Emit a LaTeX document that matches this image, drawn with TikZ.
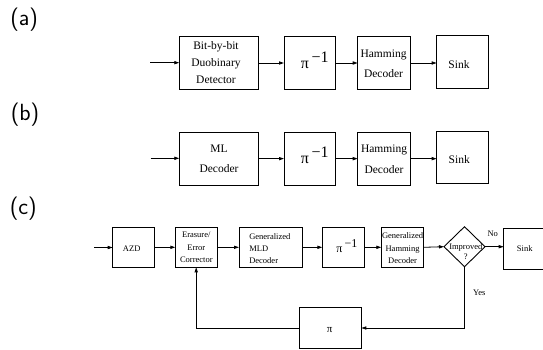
\documentclass[tikz,border=0pt]{standalone}
\usepackage{fontspec}
\setmainfont{Liberation Serif}
\usetikzlibrary{arrows.meta,shapes.geometric}
\tikzset{
  blk/.style={draw, line width=0.9pt, rectangle, inner sep=0pt, outer sep=0pt},
  dia/.style={draw, line width=0.9pt, diamond, inner sep=0pt, outer sep=0pt},
  arr/.style={line width=0.8pt, -{Triangle[length=5pt,width=3.2pt]}},
  line/.style={line width=0.8pt},
  txt/.style={inner sep=0pt, outer sep=0pt},
  lbl/.style={txt, anchor=base, font=\sffamily\fontsize{23.4}{28}\selectfont},
  bigpi/.style={txt, anchor=base, font=\fontsize{16}{19}\selectfont},
  midpi/.style={txt, anchor=base, font=\fontsize{12}{14}\selectfont},
  small/.style={txt, font=\fontsize{8.5}{12.5}\selectfont},
  large/.style={txt, font=\fontsize{11.5}{17.2}\selectfont},
}
\begin{document}
\begin{tikzpicture}[x=1pt,y=-1pt]
\path[use as bounding box] (0,0) rectangle (543,350);
\fill[white] (0,0) rectangle (543,350);
\clip (0,0) rectangle (543,350);

% panel labels
\node[lbl] (la) at (24.2,25.85) {(a)};
\node[lbl] (lb) at (25,120.3) {(b)};
\node[lbl] (lc) at (23.3,214.2) {(c)};

% ---------- row (a)
\node[blk, minimum width=79pt, minimum height=52.6pt] (a1) at (218.8,63) {};
\node[large, align=center] (a1t) at (216,62.7) {Bit-by-bit\\Duobinary\\Detector};
\node[blk, minimum width=51pt, minimum height=52.6pt] (a2) at (309.5,63) {};
\node[bigpi] (a2t) at (314.7,68.7) {π\,\raisebox{6pt}{−1}};
\node[blk, minimum width=53pt, minimum height=52.6pt] (a3) at (384.2,63) {};
\node[large, align=center, font=\fontsize{11.5}{20.4}\selectfont] (a3t) at (383.5,64) {Hamming\\Decoder};
\node[blk, minimum width=51.3pt, minimum height=53.3pt] (a4) at (462.3,61.7) {};
\node[large, anchor=base] (a4t) at (459,68.2) {Sink};
\coordinate (ain) at (150,62.7);
\draw[arr] (ain) -- (ain -| a1.west);
\draw[arr] (a1.east) -- (a2.west);
\draw[arr] (a2.east) -- (a3.west);
\draw[arr] (a3.east) -- (a3.east -| a4.west);

% ---------- row (b)
\node[blk, minimum width=79pt, minimum height=52.7pt] (b1) at (218.8,158.65) {};
\node[large, align=center, font=\fontsize{11.5}{20}\selectfont] (b1t) at (219,158.3) {ML\\Decoder};
\node[blk, minimum width=51pt, minimum height=52.7pt] (b2) at (309.5,158.65) {};
\node[bigpi] (b2t) at (314.7,163.7) {π\,\raisebox{6pt}{−1}};
\node[blk, minimum width=53pt, minimum height=52.7pt] (b3) at (384.2,158.65) {};
\node[large, align=center, font=\fontsize{11.5}{21}\selectfont] (b3t) at (384,159.3) {Hamming\\Decoder};
\node[blk, minimum width=51.3pt, minimum height=51.6pt] (b4) at (462.3,157.5) {};
\node[large, anchor=base] (b4t) at (459.2,163.9) {Sink};
\coordinate (bin) at (150.7,158.3);
\draw[arr] (bin) -- (bin -| b1.west);
\draw[arr] (b1.east) -- (b2.west);
\draw[arr] (b2.east) -- (b3.west);
\draw[arr] (b3.east) -- (b3.east -| b4.west);

% ---------- row (c)
\node[blk, minimum width=41.6pt, minimum height=40pt] (c1) at (133.5,247.3) {};
\node[small, anchor=base] (c1t) at (131.7,251.1) {AZD};
\node[blk, minimum width=41.7pt, minimum height=40pt] (c2) at (196.2,247.3) {};
\node[small, align=center] (c2t) at (196.3,247.4) {Erasure/\\Error\\Corrector};
\node[blk, minimum width=63pt, minimum height=40pt] (c3) at (270.5,247.3) {};
\node[small, align=left, anchor=west, font=\fontsize{8.5}{12.15}\selectfont] (c3t) at (249.3,248.85) {Generalized\\MLD\\Decoder};
\node[blk, minimum width=41.7pt, minimum height=40pt] (c4) at (343.2,247.3) {};
\node[midpi] (c4t) at (346.85,252.1) {π\,\raisebox{4.7pt}{−1}};
\node[blk, minimum width=42.4pt, minimum height=40pt] (c5) at (402.5,247.3) {};
\node[small, align=center] (c5t) at (402.6,248.2) {Generalized\\Hamming\\Decoder};
\node[dia, minimum width=41pt, minimum height=40pt] (c6) at (464.5,246.7) {};
\node[small, align=center, font=\fontsize{8.5}{10.3}\selectfont] (c6t) at (465.8,251.55) {Improved\\?};
\node[blk, minimum width=42pt, minimum height=40.7pt] (c7) at (524.7,248.65) {};
\node[small, anchor=base] (c7t) at (524.7,251.6) {Sink};
\node[blk, minimum width=62.3pt, minimum height=40.6pt] (c8) at (330.2,328) {};
\node[txt, anchor=base, font=\fontsize{11}{13}\selectfont] (c8t) at (329.7,332.5) {π};
\node[small, anchor=base] (no) at (492.7,236.2) {No};
\node[small, anchor=base] (yes) at (479.3,295.1) {Yes};

\coordinate (cin) at (94,247.5);
\draw[arr] (cin) -- (cin -| c1.west);
\draw[arr] (c1.east) -- (c2.west);
\draw[arr] (c2.east) -- (c3.west);
\draw[arr] (c3.east) -- (c4.west);
\draw[arr] (c4.east) -- (c5.west);
\draw[arr] (c5.east) -- (c6.west);
\draw[arr] (c6.east) -- (c6.east -| c7.west);
\draw[arr] (c6.south) |- (c8.east);
\draw[arr] (c8.west) -| (c2.south);
\end{tikzpicture}
\end{document}
